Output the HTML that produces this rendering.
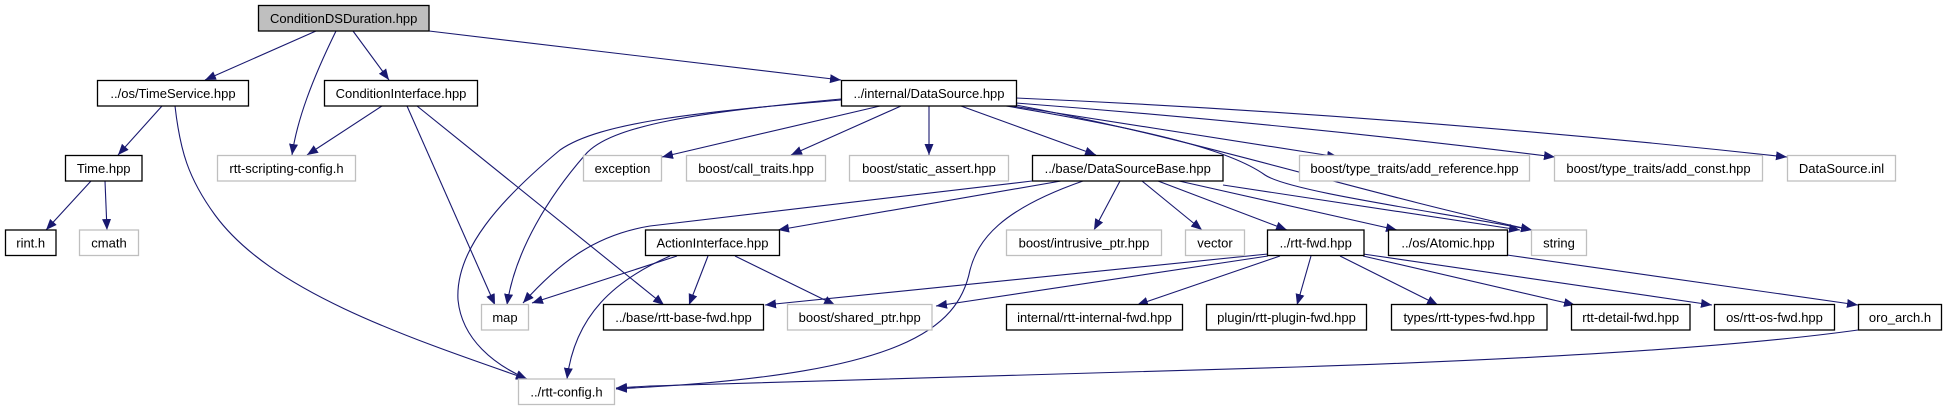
<!DOCTYPE html>
<html><head><meta charset="utf-8"><style>
html,body{margin:0;padding:0;background:#fff;}
svg{display:block;}
text{font-family:"Liberation Sans",Arial,sans-serif;font-size:13px;fill:#000;text-anchor:middle;}
.b{fill:#fff;stroke:#000;stroke-width:1.3;}
.g{fill:#fff;stroke:#bfbfbf;stroke-width:1.3;}
.e{fill:none;stroke:#191970;stroke-width:1.1;marker-end:url(#a);}
</style></head><body>
<svg width="1947" height="411" viewBox="0 0 1947 411" xmlns="http://www.w3.org/2000/svg">
<defs><marker id="a" markerUnits="userSpaceOnUse" markerWidth="12" markerHeight="10" refX="11" refY="4.5" orient="auto"><path d="M0,0 L11,4.5 L0,9 z" fill="#191970"/></marker></defs>

<!-- edges -->
<path class="e" d="M316,31 L205,80"/>
<path class="e" d="M336,31 C312,80 297,120 292,155"/>
<path class="e" d="M353,31 L389,80"/>
<path class="e" d="M429,31 L841,80"/>
<path class="e" d="M162,106 L118,155"/>
<path class="e" d="M175,106 C180,150 188,178 215,215 C270,290 400,335 527,379"/>
<path class="e" d="M91,181 L46,230"/>
<path class="e" d="M105,181 L107,230"/>
<path class="e" d="M382,106 L307,155"/>
<path class="e" d="M407,106 L495,305"/>
<path class="e" d="M417,106 L664,305"/>
<path class="e" d="M841,99 C700,112 610,125 585,155 C550,195 515,250 507,305"/>
<path class="e" d="M841,100 C700,112 600,122 560,150 C500,200 455,250 458,300 C462,340 495,365 527,379"/>
<path class="e" d="M880,106 L662,157"/>
<path class="e" d="M901,106 L791,155"/>
<path class="e" d="M929,106 L929,155"/>
<path class="e" d="M961,106 L1096,155"/>
<path class="e" d="M1016,98 Q1400,115 1787,157"/>
<path class="e" d="M1016,103 Q1300,125 1555,157"/>
<path class="e" d="M1012,106 L1338,157"/>
<path class="e" d="M1006,106 C1150,130 1230,150 1265,175 C1290,192 1440,212 1532,230"/>
<path class="e" d="M1016,105 C1200,140 1350,190 1532,230"/>
<path class="e" d="M1032,181 L650,226 C595,235 560,262 523,303"/>
<path class="e" d="M1061,181 L778,230"/>
<path class="e" d="M1083,181 C1000,210 978,240 970,270 C958,330 900,372 650,387 L616,389"/>
<path class="e" d="M1120,181 L1094,230"/>
<path class="e" d="M1142,181 L1202,230"/>
<path class="e" d="M1158,181 L1287,230"/>
<path class="e" d="M1179,181 L1397,230"/>
<path class="e" d="M1223,185 L1520,230"/>
<path class="e" d="M677,256 L532,303"/>
<path class="e" d="M708,256 L689,305"/>
<path class="e" d="M670,256 C615,280 575,315 567,379"/>
<path class="e" d="M735,256 L835,305"/>
<path class="e" d="M1268,254 L765,305"/>
<path class="e" d="M1268,256 L936,306"/>
<path class="e" d="M1280,256 L1137,305"/>
<path class="e" d="M1311,256 L1297,305"/>
<path class="e" d="M1340,256 L1438,305"/>
<path class="e" d="M1363,256 L1575,305"/>
<path class="e" d="M1363,254 L1712,305"/>
<path class="e" d="M1507,255 L1858,305"/>
<path class="e" d="M1858,330 C1700,352 1450,362 1297,367 L650,386 L616,388"/>

<!-- nodes -->
<rect x="258.5" y="5.5" width="170.5" height="25.5" fill="#bfbfbf" stroke="#000" stroke-width="1.3"/><text x="343.7" y="23">ConditionDSDuration.hpp</text>
<rect class="b" x="97.5" y="80.5" width="151" height="25.5"/><text x="173" y="98">../os/TimeService.hpp</text>
<rect class="b" x="324.5" y="80.5" width="153" height="25.5"/><text x="401" y="98">ConditionInterface.hpp</text>
<rect class="b" x="841.5" y="80.5" width="175" height="25.5"/><text x="929" y="98">../internal/DataSource.hpp</text>
<rect class="b" x="65.5" y="155.5" width="76.5" height="25.5"/><text x="103.7" y="173">Time.hpp</text>
<rect class="g" x="217.5" y="155.5" width="138" height="25.5"/><text x="286.5" y="173">rtt-scripting-config.h</text>
<rect class="g" x="583.5" y="155.5" width="78" height="25.5"/><text x="622.5" y="173">exception</text>
<rect class="g" x="686.5" y="155.5" width="139" height="25.5"/><text x="756" y="173">boost/call_traits.hpp</text>
<rect class="g" x="849.5" y="155.5" width="159" height="25.5"/><text x="929" y="173">boost/static_assert.hpp</text>
<rect class="b" x="1032.5" y="155.5" width="190.5" height="25.5"/><text x="1127.7" y="173">../base/DataSourceBase.hpp</text>
<rect class="g" x="1299.5" y="155.5" width="230" height="25.5"/><text x="1414.5" y="173">boost/type_traits/add_reference.hpp</text>
<rect class="g" x="1554.5" y="155.5" width="208" height="25.5"/><text x="1658.5" y="173">boost/type_traits/add_const.hpp</text>
<rect class="g" x="1787.5" y="155.5" width="108" height="25.5"/><text x="1841.5" y="173">DataSource.inl</text>
<rect class="b" x="5.5" y="230" width="50.5" height="25.5"/><text x="30.7" y="247.5">rint.h</text>
<rect class="g" x="79.5" y="230" width="59" height="25.5"/><text x="109" y="247.5">cmath</text>
<rect class="b" x="645.5" y="230" width="134" height="25.5"/><text x="712.5" y="247.5">ActionInterface.hpp</text>
<rect class="g" x="1006.5" y="230" width="155" height="25.5"/><text x="1084" y="247.5">boost/intrusive_ptr.hpp</text>
<rect class="g" x="1185.5" y="230" width="59" height="25.5"/><text x="1215" y="247.5">vector</text>
<rect class="b" x="1267.5" y="230" width="96.5" height="25.5"/><text x="1315.7" y="247.5">../rtt-fwd.hpp</text>
<rect class="b" x="1388.5" y="230" width="119" height="25.5"/><text x="1448" y="247.5">../os/Atomic.hpp</text>
<rect class="g" x="1531.5" y="230" width="55" height="25.5"/><text x="1559" y="247.5">string</text>
<rect class="g" x="481.5" y="304.5" width="47" height="25.5"/><text x="505" y="322">map</text>
<rect class="b" x="603.5" y="304.5" width="160" height="25.5"/><text x="683.5" y="322">../base/rtt-base-fwd.hpp</text>
<rect class="g" x="787.5" y="304.5" width="144.5" height="25.5"/><text x="859.7" y="322">boost/shared_ptr.hpp</text>
<rect class="b" x="1006.5" y="304.5" width="176" height="25.5"/><text x="1094.5" y="322">internal/rtt-internal-fwd.hpp</text>
<rect class="b" x="1206.5" y="304.5" width="160" height="25.5"/><text x="1286.5" y="322">plugin/rtt-plugin-fwd.hpp</text>
<rect class="b" x="1391.5" y="304.5" width="155.5" height="25.5"/><text x="1469.2" y="322">types/rtt-types-fwd.hpp</text>
<rect class="b" x="1571.5" y="304.5" width="118.5" height="25.5"/><text x="1630.7" y="322">rtt-detail-fwd.hpp</text>
<rect class="b" x="1714.5" y="304.5" width="120" height="25.5"/><text x="1774.5" y="322">os/rtt-os-fwd.hpp</text>
<rect class="b" x="1858.5" y="304.5" width="83" height="25.5"/><text x="1900" y="322">oro_arch.h</text>
<rect class="g" x="518.5" y="379" width="96" height="25.5"/><text x="566.5" y="396.5">../rtt-config.h</text>
</svg>
</body></html>
